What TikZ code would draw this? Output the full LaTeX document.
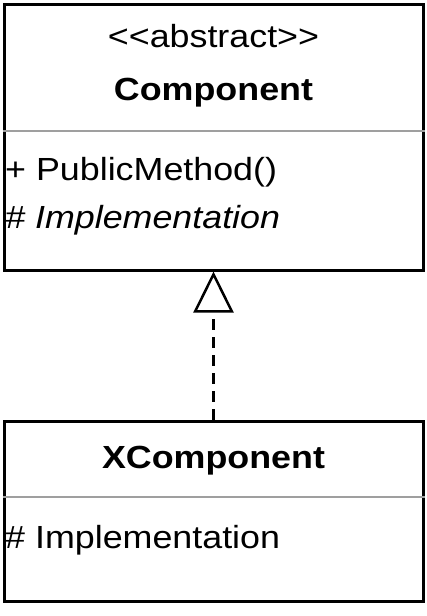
\documentclass[tikz,border=0pt]{standalone}
\usepackage{fontspec}
\setmainfont{Liberation Sans}[FakeStretch=1.12]
\usetikzlibrary{arrows.meta}

\begin{document}
\begin{tikzpicture}[x=1pt, y=-1pt,
  classbox/.style = {draw, line width=3pt, minimum width=419pt, inner sep=0pt},
  divider/.style = {draw=gray!75, line width=2pt},
  member/.style = {anchor=base west, inner sep=0pt, font=\fontsize{32}{38}\selectfont},
  title/.style = {anchor=base, inner sep=0pt, font=\fontsize{32}{38}\selectfont\bfseries}]
\useasboundingbox (0,0) rectangle (426,616);
% the two classes
\node [classbox, minimum height=266pt] (comp) at (213.5,137) {};
\node [classbox, minimum height=180pt] (xcomp) at (213.5,511) {};
\draw [divider] (comp.west |- 0,131) -- (comp.east |- 0,131);
\draw [divider] (xcomp.west |- 0,497) -- (xcomp.east |- 0,497);
% Component
\node [title, font=\fontsize{32}{38}\selectfont] (stereo) at (213.5,47) {<\kern0pt<abstract>\kern0pt>};
\node [title] (compname) at (213.5,100) {Component};
\node [member] (pubmethod) at (5,180) {+ PublicMethod()};
\node [member, font=\fontsize{32}{38}\selectfont\itshape] (impl) at (5,228) {\# Implementation};
% XComponent
\node [title] (xcompname) at (213.5,468) {XComponent};
\node [member] (ximpl) at (5,548) {\# Implementation};
% realization
\draw [line width=3pt, dash pattern=on 11pt off 7pt,
  -{Triangle[open, width=40pt, length=41pt, line width=2.5pt]}] (xcomp.north) -- (comp.south);
\end{tikzpicture}
\end{document}
